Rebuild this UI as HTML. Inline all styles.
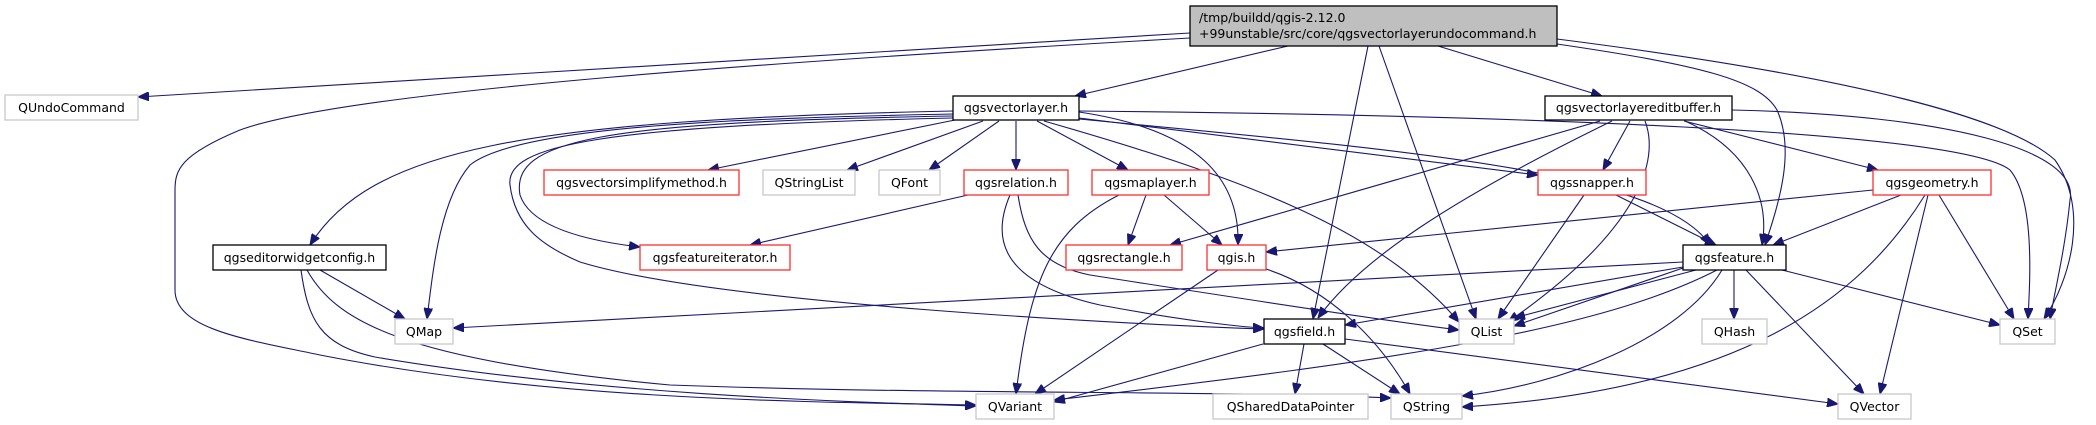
<!DOCTYPE html>
<html><head><meta charset="utf-8"><style>
html,body{margin:0;padding:0;background:#fff;}
svg{display:block;}
text{font-family:"DejaVu Sans","Liberation Sans",sans-serif;font-size:12.5px;fill:#000;}
.e{fill:none;stroke:#191970;stroke-width:1.1;marker-end:url(#a);}
.nb{fill:#fff;stroke:#000;stroke-width:1.3;}
.nr{fill:#fff;stroke:#ff3030;stroke-width:1.3;}
.ng{fill:#fff;stroke:#c8c8c8;stroke-width:1.3;}
</style></head><body>
<svg width="2096" height="425" viewBox="0 0 2096 425" xmlns="http://www.w3.org/2000/svg">
<defs><marker id="a" markerWidth="11" markerHeight="9" refX="11" refY="4.5" orient="auto" markerUnits="userSpaceOnUse"><path d="M0,0 L11,4.5 L0,9 z" fill="#191970" stroke="#191970"/></marker></defs>
<path class="e" d="M1190,33 L138,97"/>
<path class="e" d="M1190,38 C800,60 350,90 240,130 C180,155 175,170 175,190 L175,290 C175,330 250,340 320,355 C550,400 800,402 976,405"/>
<path class="e" d="M1288,46 L1075,96"/>
<path class="e" d="M1438,46 L1602,96"/>
<path class="e" d="M1368,46 L1313,319"/>
<path class="e" d="M1379,46 L1476,319"/>
<path class="e" d="M1557,44 C1700,65 1760,80 1777,110 C1795,150 1780,200 1765,245"/>
<path class="e" d="M1557,39 C1800,70 2000,110 2055,160 C2090,210 2070,280 2044,319"/>
<path class="e" d="M953,111 C520,120 370,150 310,245"/>
<path class="e" d="M953,114 C750,118 520,125 470,165 C440,200 433,270 427,319"/>
<path class="e" d="M955,120 L708,170"/>
<path class="e" d="M983,121 L847,170"/>
<path class="e" d="M999,121 L929,170"/>
<path class="e" d="M1016,121 L1016,170"/>
<path class="e" d="M1037,121 L1128,170"/>
<path class="e" d="M953,116 C600,122 510,140 520,195 C530,225 580,240 640,247"/>
<path class="e" d="M953,118 C600,126 505,145 510,185 C515,225 540,245 580,262 C720,305 1150,325 1264,329"/>
<path class="e" d="M1044,121 C1250,180 1380,230 1459,322"/>
<path class="e" d="M1079,112 C1200,130 1240,180 1238,245"/>
<path class="e" d="M1079,119 C1400,150 1660,170 1710,245"/>
<path class="e" d="M1079,118 L1538,175"/>
<path class="e" d="M1079,111 C1500,115 1960,130 2010,170 C2035,200 2030,280 2028,319"/>
<path class="e" d="M968,195 L750,245"/>
<path class="e" d="M1010,195 C995,230 990,280 1100,305 C1180,320 1240,327 1264,328"/>
<path class="e" d="M1018,195 C1025,240 1040,265 1090,275 C1250,300 1380,320 1459,330"/>
<path class="e" d="M1119,195 C1050,230 1030,280 1016,394"/>
<path class="e" d="M1146,195 L1128,245"/>
<path class="e" d="M1164,195 L1222,245"/>
<path class="e" d="M1218,270 L1035,394"/>
<path class="e" d="M1266,269 C1330,290 1380,340 1410,394"/>
<path class="e" d="M320,270 L405,319"/>
<path class="e" d="M301,270 C308,320 320,345 375,357 C600,395 850,402 976,406"/>
<path class="e" d="M307,270 C335,320 400,360 670,385 C950,395 1200,390 1391,398"/>
<path class="e" d="M1263,344 L1054,402"/>
<path class="e" d="M1304,344 L1295,394"/>
<path class="e" d="M1323,344 L1400,394"/>
<path class="e" d="M1345,339 L1838,404"/>
<path class="e" d="M1600,121 L1170,245"/>
<path class="e" d="M1612,121 C1450,200 1360,260 1318,318"/>
<path class="e" d="M1645,121 C1660,160 1640,230 1508,322"/>
<path class="e" d="M1630,121 L1603,170"/>
<path class="e" d="M1685,121 C1750,150 1770,200 1762,245"/>
<path class="e" d="M1684,121 L1878,170"/>
<path class="e" d="M1732,110 C1950,115 2080,150 2070,200 C2065,250 2055,290 2050,319"/>
<path class="e" d="M1584,195 L1498,319"/>
<path class="e" d="M1616,195 L1716,245"/>
<path class="e" d="M1873,190 L1266,252"/>
<path class="e" d="M1901,195 L1773,245"/>
<path class="e" d="M1925,195 C1860,300 1740,390 1462,407"/>
<path class="e" d="M1928,195 L1880,394"/>
<path class="e" d="M1939,195 L2014,319"/>
<path class="e" d="M1683,262 L453,328"/>
<path class="e" d="M1683,267 L1345,325"/>
<path class="e" d="M1696,270 L1514,318"/>
<path class="e" d="M1683,268 L1514,326"/>
<path class="e" d="M1717,270 C1600,330 1400,360 1054,400"/>
<path class="e" d="M1722,270 C1680,340 1560,385 1462,396"/>
<path class="e" d="M1734,270 L1734,319"/>
<path class="e" d="M1746,270 L1864,394"/>
<path class="e" d="M1782,270 L2000,325"/>
<rect x="1190" y="6" width="367" height="40" fill="#bfbfbf" stroke="#000" stroke-width="1.3"/>
<text x="1199" y="22">/tmp/buildd/qgis-2.12.0</text>
<text x="1199" y="38">+99unstable/src/core/qgsvectorlayerundocommand.h</text>
<g text-anchor="middle">
<rect class="ng" x="5" y="95" width="133" height="25"/><text x="71.5" y="112">QUndoCommand</text>
<rect class="nb" x="953" y="96" width="126" height="24"/><text x="1016" y="112">qgsvectorlayer.h</text>
<rect class="nb" x="1545" y="96" width="187" height="24"/><text x="1638.5" y="112">qgsvectorlayereditbuffer.h</text>
<rect class="nr" x="544" y="170" width="195" height="25"/><text x="641.5" y="187">qgsvectorsimplifymethod.h</text>
<rect class="ng" x="763" y="170" width="92" height="25"/><text x="809" y="187">QStringList</text>
<rect class="ng" x="879" y="170" width="61" height="25"/><text x="909.5" y="187">QFont</text>
<rect class="nr" x="964" y="170" width="104" height="25"/><text x="1016" y="187">qgsrelation.h</text>
<rect class="nr" x="1092" y="170" width="117" height="25"/><text x="1150.5" y="187">qgsmaplayer.h</text>
<rect class="nr" x="1538" y="170" width="108" height="25"/><text x="1592" y="187">qgssnapper.h</text>
<rect class="nr" x="1873" y="170" width="118" height="25"/><text x="1932" y="187">qgsgeometry.h</text>
<rect class="nb" x="213" y="245" width="173" height="25"/><text x="299.5" y="262">qgseditorwidgetconfig.h</text>
<rect class="nr" x="640" y="245" width="150" height="25"/><text x="715" y="262">qgsfeatureiterator.h</text>
<rect class="nr" x="1066" y="245" width="116" height="25"/><text x="1124" y="262">qgsrectangle.h</text>
<rect class="nr" x="1207" y="245" width="59" height="25"/><text x="1236.5" y="262">qgis.h</text>
<rect class="nb" x="1683" y="245" width="103" height="25"/><text x="1734.5" y="262">qgsfeature.h</text>
<rect class="ng" x="395" y="319" width="58" height="25"/><text x="424" y="336">QMap</text>
<rect class="nb" x="1264" y="319" width="81" height="25"/><text x="1304.5" y="336">qgsfield.h</text>
<rect class="ng" x="1459" y="319" width="55" height="25"/><text x="1486.5" y="336">QList</text>
<rect class="ng" x="1702" y="319" width="65" height="25"/><text x="1734.5" y="336">QHash</text>
<rect class="ng" x="2000" y="319" width="55" height="25"/><text x="2027.5" y="336">QSet</text>
<rect class="ng" x="976" y="394" width="78" height="25"/><text x="1015" y="411">QVariant</text>
<rect class="ng" x="1213" y="394" width="155" height="25"/><text x="1290.5" y="411">QSharedDataPointer</text>
<rect class="ng" x="1391" y="394" width="71" height="25"/><text x="1426.5" y="411">QString</text>
<rect class="ng" x="1838" y="394" width="73" height="25"/><text x="1874.5" y="411">QVector</text>
</g>
</svg>
</body></html>
